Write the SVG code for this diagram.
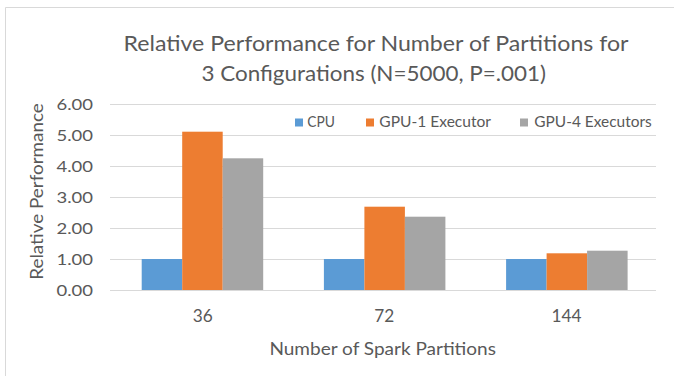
<svg xmlns="http://www.w3.org/2000/svg" width="674" height="376" viewBox="0 0 674 376">
  <style>
    text { font-family: Lato, "Liberation Sans", sans-serif; fill: #595959; }
    .title { font-size: 21px; }
    .tick { font-size: 15.5px; }
    .cat { font-size: 16.5px; }
    .axis-title { font-size: 17px; }
    .legend { font-size: 15px; }
    .grid { stroke: #d9d9d9; stroke-width: 1; fill: none; }
    .cpu { fill: #5b9bd5; }
    .gpu1 { fill: #ed7d31; }
    .gpu4 { fill: #a5a5a5; }
  </style>

  <!-- chart area background and frame -->
  <rect x="0" y="0" width="674" height="376" fill="#ffffff"/>
  <path d="M5.5,376 V7.5 H674" fill="none" stroke="#d9d9d9" stroke-width="1"/>

  <!-- title -->
  <g id="title">
    <text class="title" x="123.5" y="51" textLength="505" lengthAdjust="spacingAndGlyphs">Relative Performance for Number of Partitions for</text>
    <text class="title" x="201.5" y="81" textLength="344.5" lengthAdjust="spacingAndGlyphs">3 Configurations (N=5000, P=.001)</text>
  </g>

  <!-- horizontal gridlines, value 0..6 -->
  <g id="gridlines">
    <line class="grid" x1="110" y1="104.5" x2="656" y2="104.5"/>
    <line class="grid" x1="110" y1="135.5" x2="656" y2="135.5"/>
    <line class="grid" x1="110" y1="166.5" x2="656" y2="166.5"/>
    <line class="grid" x1="110" y1="197.5" x2="656" y2="197.5"/>
    <line class="grid" x1="110" y1="228.5" x2="656" y2="228.5"/>
    <line class="grid" x1="110" y1="259.5" x2="656" y2="259.5"/>
    <line class="grid" x1="110" y1="290.5" x2="656" y2="290.5"/>
  </g>

  <!-- value axis labels -->
  <g id="value-axis" text-anchor="end">
    <text class="tick" x="93" y="110" textLength="36.5" lengthAdjust="spacingAndGlyphs">6.00</text>
    <text class="tick" x="93" y="141" textLength="36.5" lengthAdjust="spacingAndGlyphs">5.00</text>
    <text class="tick" x="93" y="172" textLength="36.5" lengthAdjust="spacingAndGlyphs">4.00</text>
    <text class="tick" x="93" y="203" textLength="36.5" lengthAdjust="spacingAndGlyphs">3.00</text>
    <text class="tick" x="93" y="234" textLength="36.5" lengthAdjust="spacingAndGlyphs">2.00</text>
    <text class="tick" x="93" y="265" textLength="36.5" lengthAdjust="spacingAndGlyphs">1.00</text>
    <text class="tick" x="93" y="296" textLength="36.5" lengthAdjust="spacingAndGlyphs">0.00</text>
    <text class="axis-title" transform="translate(42.5,191.5) rotate(-90)" x="0" y="0" text-anchor="middle" textLength="176.5" lengthAdjust="spacingAndGlyphs">Relative Performance</text>
  </g>

  <!-- category axis labels -->
  <g id="category-axis" text-anchor="middle">
    <text class="cat" x="202.7" y="322" textLength="20" lengthAdjust="spacingAndGlyphs">36</text>
    <text class="cat" x="384.3" y="322" textLength="20" lengthAdjust="spacingAndGlyphs">72</text>
    <text class="cat" x="566.5" y="322" textLength="30" lengthAdjust="spacingAndGlyphs">144</text>
    <text class="axis-title" x="382.7" y="354.5" textLength="226.5" lengthAdjust="spacingAndGlyphs">Number of Spark Partitions</text>
  </g>

  <!-- series: CPU (baseline 1.00) -->
  <g id="series-cpu">
    <rect class="cpu" x="141.7" y="259" width="40.5" height="31"/>
    <rect class="cpu" x="323.9" y="259" width="40.5" height="31"/>
    <rect class="cpu" x="506.1" y="259" width="40.5" height="31"/>
  </g>

  <!-- series: GPU-1 Executor -->
  <g id="series-gpu1">
    <rect class="gpu1" x="182.2" y="131.7" width="40.5" height="158.3"/>
    <rect class="gpu1" x="364.4" y="206.7" width="40.5" height="83.3"/>
    <rect class="gpu1" x="546.6" y="253.3" width="40.5" height="36.7"/>
  </g>

  <!-- series: GPU-4 Executors -->
  <g id="series-gpu4">
    <rect class="gpu4" x="222.7" y="158.3" width="40.5" height="131.7"/>
    <rect class="gpu4" x="404.9" y="216.7" width="40.5" height="73.3"/>
    <rect class="gpu4" x="587.1" y="250.7" width="40.5" height="39.3"/>
  </g>

  <!-- legend -->
  <g id="legend">
    <rect class="cpu" x="295" y="118.5" width="8" height="8"/>
    <text class="legend" x="307.3" y="127" textLength="27.7" lengthAdjust="spacingAndGlyphs">CPU</text>
    <rect class="gpu1" x="366" y="118.5" width="8" height="8"/>
    <text class="legend" x="379.3" y="127" textLength="111.7" lengthAdjust="spacingAndGlyphs">GPU-1 Executor</text>
    <rect class="gpu4" x="520" y="118.5" width="8" height="8"/>
    <text class="legend" x="534.3" y="127" textLength="117.4" lengthAdjust="spacingAndGlyphs">GPU-4 Executors</text>
  </g>
</svg>
